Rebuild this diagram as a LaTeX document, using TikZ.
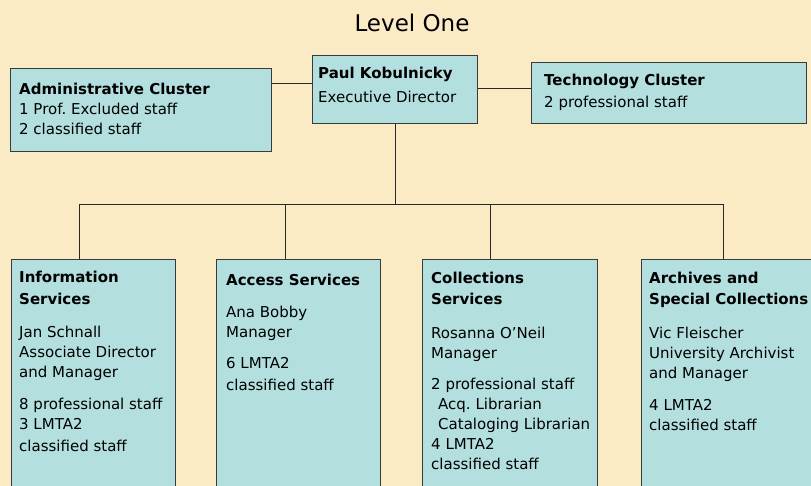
\documentclass[tikz,border=0pt]{standalone}
\usepackage{fontspec}
\setmainfont{DejaVu Sans}
\usetikzlibrary{positioning}
\frenchspacing

\definecolor{chartbg}{RGB}{251,235,197}
\definecolor{boxfill}{RGB}{179,223,223}
\definecolor{boxline}{RGB}{58,58,58}
\definecolor{linkcol}{RGB}{40,40,40}

\tikzset{
  unit/.style={draw=boxline, fill=boxfill, line width=1.4pt, rectangle,
    anchor=north west, inner sep=0pt},
  txt/.style={anchor=north west, inner sep=0pt, align=left,
    font=\fontsize{15}{20}\selectfont},
  link/.style={draw=linkcol, line width=1pt}
}

\begin{document}
\begin{tikzpicture}[x=1pt, y=-1pt]

  % Page
  \useasboundingbox (0,0) rectangle (811,486);
  \clip (0,0) rectangle (811,486);
  \fill[chartbg] (0,0) rectangle (811,486);

  % Title
  \node[font=\fontsize{23}{28}\selectfont, anchor=base] (title) at (412,32) {Level One};

  % Level one boxes
  \node[unit, minimum width=261pt, minimum height=83pt] (admin) at (10,68) {};
  \node[unit, minimum width=165pt, minimum height=68pt] (exec) at (312,55) {};
  \node[unit, minimum width=275pt, minimum height=61pt] (tech) at (531,62) {};

  \node[txt, below right=14.5pt and 9pt of admin.north west] (admintxt)
    {\textbf{Administrative Cluster}\\ 1 Prof. Excluded staff\\[0.5pt] 2 classified staff};
  \node[txt, below right=11.5pt and 6pt of exec.north west] (exectxt)
    {\textbf{Paul Kobulnicky}\\[4pt] Executive Director};
  \node[txt, below right=11.5pt and 13pt of tech.north west] (techtxt)
    {\textbf{Technology Cluster}\\[2pt] 2 professional staff};

  % Departments
  \node[unit, minimum width=164pt, minimum height=240pt] (info) at (11,259) {};
  \node[unit, minimum width=164pt, minimum height=240pt] (access) at (216,259) {};
  \node[unit, minimum width=175pt, minimum height=240pt] (coll) at (422,259) {};
  \node[unit, minimum width=180pt, minimum height=240pt] (arch) at (641,259) {};

  \node[txt, below right=11.5pt and 8pt of info.north west] (infotxt)
    {\textbf{Information}\\[2pt] \textbf{Services}\\[13pt]
     Jan Schnall\\ Associate Director\\ and Manager\\[12pt]
     8 professional staff\\ 3 LMTA2\\[2pt] classified staff};
  \node[txt, below right=15pt and 10pt of access.north west] (accesstxt)
    {\textbf{Access Services}\\[12pt]
     Ana Bobby\\ Manager\\[11pt]
     6 LMTA2\\[2pt] classified staff};
  \node[txt, below right=12.5pt and 9pt of coll.north west] (colltxt)
    {\textbf{Collections}\\[1pt] \textbf{Services}\\[14pt]
     Rosanna O'Neil\\ Manager\\[11pt]
     2 professional staff\\ \hspace*{7pt}Acq. Librarian\\
     \hspace*{7pt}Cataloging Librarian\\ 4 LMTA2\\ classified staff};
  \node[txt, below right=12.5pt and 8pt of arch.north west] (archtxt)
    {\textbf{Archives and}\\[1pt] \textbf{Special Collections}\\[14pt]
     Vic Fleischer\\ University Archivist\\ and Manager\\[12pt]
     4 LMTA2\\ classified staff};

  % Connectors
  \draw[link] ([yshift=6pt]exec.west) -- ([yshift=6pt]exec.west -| admin.east);
  \draw[link] ([yshift=1pt]exec.east) -- ([yshift=1pt]exec.east -| tech.west);

  \coordinate (bus) at (exec.south |- 0,205);
  \draw[link] (exec.south) -- (bus);
  \draw[link] (bus) -| ([xshift=-14pt]info.north);
  \draw[link] (bus) -| ([xshift=-13pt]access.north);
  \draw[link] (bus) -| ([xshift=-19.5pt]coll.north);
  \draw[link] (bus) -| ([xshift=-8pt]arch.north);

\end{tikzpicture}
\end{document}
